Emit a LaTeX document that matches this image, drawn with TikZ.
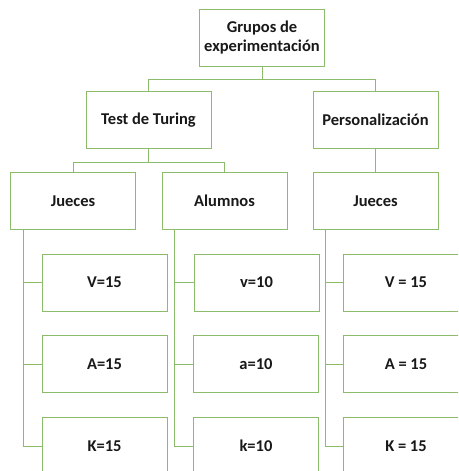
\documentclass[tikz,border=0pt]{standalone}
\usepackage{fontspec}
\setmainfont{Carlito}
\definecolor{lg}{HTML}{8CBB6B}
\begin{document}
\begin{tikzpicture}[x=1pt,y=-1pt,
  box/.style={draw=lg,line width=1pt,fill=white,minimum width=125pt,minimum height=57pt,inner sep=0pt,font=\fontsize{16.5}{19}\selectfont\bfseries,align=center,text=black!90},
  conn/.style={draw=lg,line width=1pt}]
\useasboundingbox (0,0) rectangle (458,471);
\begin{scope}
\clip (0,0) rectangle (458,471);
\path[fill=white] (0,0) rectangle (458,471);
\coordinate (j1b) at (23,229.5);
\coordinate (alb) at (174.5,229.5);
\coordinate (j2b) at (325.5,229.5);
\node[box] (g) at (262,38) {Grupos de\\experimentación};
\node[box] (t) at (148.5,120) {Test de Turing};
\node[box] (p) at (375.5,120) {Personalización};
\node[box] (j1) at (73,201) {Jueces};
\node[box] (al) at (224.5,201) {Alumnos};
\node[box] (j2) at (375.5,201) {Jueces};
\node[box] (a1) at (104.5,282.5) {V=15};
\node[box] (a2) at (104.5,364) {A=15};
\node[box] (a3) at (104.5,446) {K=15};
\node[box] (b1) at (256.5,282.5) {v=10};
\node[box] (b2) at (256,364) {a=10};
\node[box] (b3) at (256,446) {k=10};
\node[box] (c1) at (406,282.5) {V = 15};
\node[box] (c2) at (406,364) {A = 15};
\node[box] (c3) at (406,446) {K = 15};
\draw[conn] (g.south) -- ++(0,12) -| (t.north);
\draw[conn] (g.south) -- ++(0,12) -| (p.north);
\draw[conn] (t.south) -- ++(0,13) -| (j1.north);
\draw[conn] (t.south) -- ++(0,13) -| (al.north);
\draw[conn] (p.south) -- (j2.north);
\draw[conn] (j1b) |- (a1.west);
\draw[conn] (j1b) |- (a2.west);
\draw[conn] (j1b) |- (a3.west);
\draw[conn] (alb) |- (b1.west);
\draw[conn] (alb) |- (b2.west);
\draw[conn] (alb) |- (b3.west);
\draw[conn] (j2b) |- (c1.west);
\draw[conn] (j2b) |- (c2.west);
\draw[conn] (j2b) |- (c3.west);
\end{scope}
\end{tikzpicture}
\end{document}
